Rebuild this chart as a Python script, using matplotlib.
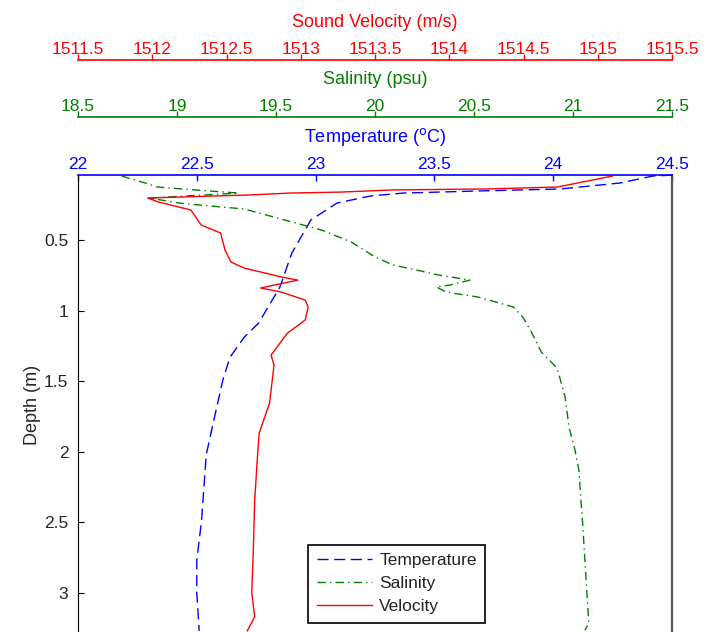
import matplotlib
matplotlib.use("Agg")
import matplotlib.pyplot as plt
from matplotlib.ticker import FuncFormatter, MultipleLocator

plt.rcParams["font.family"] = ["Liberation Sans", "DejaVu Sans"]
plt.rcParams["font.size"] = 12.5

# Temperature profile (deg C vs depth m)
temp_depth = [0.04, 0.046, 0.096, 0.138, 0.152, 0.167, 0.188, 0.238, 0.358, 0.592,
              0.833, 0.947, 1.089, 1.188, 1.33, 1.49, 1.79, 2.02, 2.25, 2.49,
              2.77, 3.00, 3.27]
temperature = [24.5, 24.42, 24.28, 24.03, 23.69, 23.37, 23.23, 23.09, 22.98, 22.90,
               22.85, 22.81, 22.76, 22.70, 22.64, 22.61, 22.57, 22.54, 22.53, 22.52,
               22.50, 22.50, 22.51]

# Salinity profile (psu vs depth m)
sal_depth = [0.046, 0.096, 0.124, 0.145, 0.167, 0.202, 0.238, 0.259, 0.28, 0.372,
             0.429, 0.514, 0.62, 0.677, 0.713, 0.748, 0.784, 0.819, 0.833, 0.869,
             0.904, 0.975, 1.053, 1.152, 1.294, 1.408, 1.613, 1.826, 1.989, 2.131,
             2.344, 2.535, 2.77, 3.00, 3.216, 3.266]
salinity = [18.72, 18.84, 18.90, 19.09, 19.31, 18.86, 19.01, 19.17, 19.34, 19.58,
            19.73, 19.88, 20.00, 20.09, 20.21, 20.32, 20.48, 20.38, 20.31, 20.36,
            20.52, 20.70, 20.75, 20.79, 20.84, 20.92, 20.96, 20.98, 21.01, 21.03,
            21.04, 21.05, 21.06, 21.07, 21.08, 21.06]

# Sound velocity profile (m/s vs depth m)
vel_depth = [0.046, 0.124, 0.138, 0.145, 0.16, 0.167, 0.181, 0.202, 0.23, 0.287,
             0.394, 0.45, 0.571, 0.656, 0.699, 0.762, 0.784, 0.84, 0.869, 0.926,
             0.975, 1.067, 1.16, 1.316, 1.387, 1.656, 1.869, 2.01, 2.344, 2.72,
             3.00, 3.17, 3.27]
velocity = [1515.10, 1514.73, 1514.25, 1513.62, 1513.27, 1512.93, 1512.64, 1511.97,
            1512.04, 1512.26, 1512.33, 1512.46, 1512.49, 1512.53, 1512.62, 1512.87,
            1512.98, 1512.73, 1512.87, 1513.03, 1513.05, 1513.03, 1512.91, 1512.80,
            1512.82, 1512.79, 1512.72, 1512.71, 1512.69, 1512.68, 1512.67, 1512.69,
            1512.64]

BLUE = "#0000ff"
GREEN = "#008000"
RED = "#ff0000"
fmt = FuncFormatter(lambda v, p: "%g" % v)

fig = plt.figure(figsize=(7.07, 6.32), dpi=100)
W, H = 707, 632
ax = fig.add_axes([78 / W, -3 / H, (672 - 78) / W, (632 - 175 + 3) / H])
ax2 = ax.twiny()
ax3 = ax.twiny()

# temperature axis (top, inner)
l1, = ax.plot(temperature, temp_depth, color=BLUE, lw=1.0, dashes=(8, 4),
              label="Temperature")
ax.set_xlim(22, 24.5)
ax.set_ylim(3.30, 0.039)
ax.xaxis.tick_top()
ax.xaxis.set_label_position("top")
ax.xaxis.set_major_locator(MultipleLocator(0.5))
ax.xaxis.set_major_formatter(fmt)
ax.tick_params(axis="x", direction="in", length=4.5, width=1, colors=BLUE, pad=2)
ax.set_xlabel(r"Temperature ($^{\mathrm{o}}$C)", color=BLUE, labelpad=11,
              fontsize=13)
ax.spines["top"].set_color(BLUE)
ax.spines["top"].set_linewidth(1.2)
ax.spines["bottom"].set_visible(False)
ax.spines["left"].set_color("black")
ax.spines["right"].set_color("#555555")
ax.spines["right"].set_linewidth(1.6)

ax.yaxis.set_major_locator(MultipleLocator(0.5))
ax.yaxis.set_major_formatter(fmt)
ax.tick_params(axis="y", direction="in", length=4.5, pad=7, color="black",
               labelcolor="#262626")
ax.set_ylabel("Depth (m)", color="#262626", labelpad=2, fontsize=13)

# salinity axis
l2, = ax2.plot(salinity, sal_depth, color=GREEN, lw=1.0, dashes=(6, 3, 1, 3),
               label="Salinity")
ax2.set_xlim(18.5, 21.5)
ax2.xaxis.set_major_locator(MultipleLocator(0.5))
ax2.xaxis.set_major_formatter(fmt)
for s in ["bottom", "left", "right"]:
    ax2.spines[s].set_visible(False)
ax2.spines["top"].set_position(("outward", 58 * 0.72))
ax2.spines["top"].set_color(GREEN)
ax2.spines["top"].set_linewidth(1.2)
ax2.tick_params(axis="x", direction="out", length=4.5, width=1, colors=GREEN, pad=-2.5)
ax2.set_xlabel("Salinity (psu)", color=GREEN, labelpad=11, fontsize=13)

# velocity axis
l3, = ax3.plot(velocity, vel_depth, color=RED, lw=1.0, label="Velocity")
ax3.set_xlim(1511.5, 1515.5)
ax3.xaxis.set_major_locator(MultipleLocator(0.5))
ax3.xaxis.set_major_formatter(fmt)
for s in ["bottom", "left", "right"]:
    ax3.spines[s].set_visible(False)
ax3.spines["top"].set_position(("outward", 115 * 0.72))
ax3.spines["top"].set_color(RED)
ax3.spines["top"].set_linewidth(1.2)
ax3.tick_params(axis="x", direction="out", length=4.5, width=1, colors=RED, pad=-2.5)
ax3.set_xlabel("Sound Velocity (m/s)", color=RED, labelpad=11, fontsize=13)

leg = ax3.legend(handles=[l1, l2, l3], loc="lower left",
                 bbox_to_anchor=(308 / W, 9 / H), bbox_transform=fig.transFigure,
                 borderaxespad=0, fancybox=False, edgecolor="black",
                 handlelength=3.2, handletextpad=0.4, labelspacing=0.45,
                 borderpad=0.5, framealpha=1)
leg.get_frame().set_linewidth(1.2)
for t in leg.get_texts():
    t.set_color("#222222")

fig.savefig("out.png", dpi=100)
